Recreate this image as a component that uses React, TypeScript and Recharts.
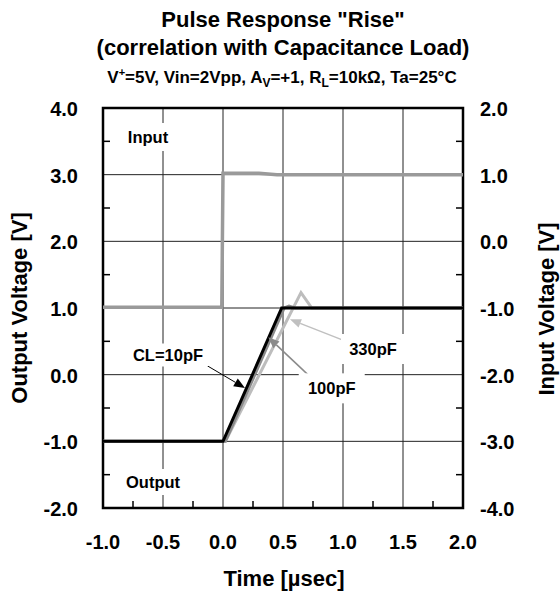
import React from "react";
import {
  LineChart,
  Line,
  XAxis,
  YAxis,
  CartesianGrid,
  ReferenceArea,
  ReferenceLine,
  ReferenceDot,
} from "recharts";

// time axis [µs]
const xMajor = [-1, -0.5, 0, 0.5, 1, 1.5, 2];
const xMinor = [-0.75, -0.25, 0.25, 0.75, 1.25, 1.75];
// left axis: output voltage [V]
const yLeftMajor = [-2, -1, 0, 1, 2, 3, 4];
// half-volt minor marks (same positions on both axes)
const yMinor = [-1.5, -0.5, 0.5, 1.5, 2.5, 3.5];
// right axis: input voltage [V]
const yRightMajor = [-4, -3, -2, -1, 0, 1, 2];

// input pulse (right axis)
const inputT = [-1, -0.01, 0.0, 0.3, 0.45, 2];
const inputV = [-0.99, -0.99, 1.02, 1.02, 1.0, 1.0];
// output, CL=10pF
const out10T = [-1, 0, 0.14, 0.489, 2];
const out10V = [-1.0, -1.0, -0.43, 1.0, 1.0];
// output, CL=100pF
const out100T = [-1, 0.02, 0.51, 0.55, 0.6, 2];
const out100V = [-1.0, -1.0, 1.0, 1.03, 1.0, 1.0];
// output, CL=330pF
const out330T = [-1, 0.02, 0.65, 0.74, 2];
const out330V = [-1.0, -1.0, 1.23, 1.0, 1.0];

const toRows = (t: number[], v: number[]) => t.map((x, i) => ({ t: x, v: v[i] }));

const FONT = "Arial, 'Liberation Sans', sans-serif";

const XTick = ({ x, y, payload }: any) => (
  <text x={x} y={y + 41} textAnchor="middle" fontFamily={FONT} fontWeight="bold" fontSize={20} fill="#000">
    {payload.value.toFixed(1)}
  </text>
);

const LeftTick = ({ x, y, payload }: any) => (
  <text x={x - 25} y={y + 8} textAnchor="end" fontFamily={FONT} fontWeight="bold" fontSize={20} fill="#000">
    {payload.value.toFixed(1)}
  </text>
);

const RightTick = ({ x, y, payload }: any) => (
  <text x={x + 17} y={y + 8} textAnchor="start" fontFamily={FONT} fontWeight="bold" fontSize={20} fill="#000">
    {payload.value.toFixed(1)}
  </text>
);

// small inward marks on the frame
const minorX = (p: any) => {
  const b = Math.max(p.y1, p.y2);
  return <line x1={p.x1} x2={p.x1} y1={b} y2={b - 7} stroke="#000" strokeWidth={1.5} />;
};
const minorY = (p: any) => {
  const l = Math.min(p.x1, p.x2);
  const r = Math.max(p.x1, p.x2);
  return (
    <g>
      <line x1={l} x2={l + 7} y1={p.y1} y2={p.y1} stroke="#000" strokeWidth={1.5} />
      <line x1={r} x2={r - 7} y1={p.y1} y2={p.y1} stroke="#000" strokeWidth={1.5} />
    </g>
  );
};

// text notes inside the plot, placed in data coordinates
const notes = [
  { text: "Input", x: -0.625, y: 3.565, w: 52, h: 28 },
  { text: "Output", x: -0.583, y: -1.61, w: 64, h: 26 },
  { text: "CL=10pF", x: -0.458, y: 0.295, w: 80, h: 23 },
  { text: "330pF", x: 1.25, y: 0.385, w: 64, h: 30 },
  { text: "100pF", x: 0.906, y: -0.205, w: 66, h: 30 },
];

const arrows = [
  { from: { x: -0.156, y: 0.16 }, to: { x: 0.183, y: -0.2 }, color: "#000", w: 1 },
  { from: { x: 1.031, y: 0.495 }, to: { x: 0.558, y: 0.83 }, color: "#c0c0c0", w: 1.5 },
  { from: { x: 0.725, y: -0.03 }, to: { x: 0.378, y: 0.56 }, color: "#8a8a8a", w: 1.5 },
];

const noteShape = (n: any) => (p: any) => (
  <g>
    <rect x={p.cx - n.w / 2} y={p.cy - n.h / 2} width={n.w} height={n.h} fill="#fff" />
    <text x={p.cx} y={p.cy + 6} textAnchor="middle" fontFamily={FONT} fontWeight="bold" fontSize={16.5} fill="#000">
      {n.text}
    </text>
  </g>
);

const arrowShape = (color: string, w: number) => (p: any) => {
  const { x1, y1, x2, y2 } = p;
  const a = Math.atan2(y2 - y1, x2 - x1);
  const L = 11;
  const W = 4.5;
  const bx = x2 - L * Math.cos(a);
  const by = y2 - L * Math.sin(a);
  const px = -Math.sin(a) * W;
  const py = Math.cos(a) * W;
  return (
    <g>
      <line x1={x1} y1={y1} x2={bx} y2={by} stroke={color} strokeWidth={w} />
      <polygon points={`${x2},${y2} ${bx + px},${by + py} ${bx - px},${by - py}`} fill={color} />
    </g>
  );
};

const App: React.FC = () => {
  return (
    <div style={{ position: "absolute", left: 0, top: 0, width: 560, height: 594, background: "#fff" }}>
      <LineChart width={560} height={594} margin={{ top: 108, right: 0, bottom: 0, left: 0 }}>
        <CartesianGrid
          stroke="#222"
          strokeWidth={1}
          horizontalValues={[-1, 0, 1, 2, 3]}
          verticalValues={[-0.5, 0, 0.5, 1, 1.5]}
        />
        <XAxis
          type="number"
          dataKey="t"
          domain={[-1, 2]}
          ticks={xMajor}
          interval={0}
          height={86}
          tickSize={0}
          tickMargin={0}
          tickLine={false}
          axisLine={false}
          tick={<XTick />}
          allowDataOverflow
        />
        <YAxis
          type="number"
          domain={[-2, 4]}
          ticks={yLeftMajor}
          interval={0}
          width={103}
          tickSize={0}
          tickMargin={0}
          tickLine={false}
          axisLine={false}
          tick={<LeftTick />}
          allowDataOverflow
        />
        <YAxis
          yAxisId="right"
          orientation="right"
          type="number"
          domain={[-4, 2]}
          ticks={yRightMajor}
          interval={0}
          width={97}
          tickSize={0}
          tickMargin={0}
          tickLine={false}
          axisLine={false}
          tick={<RightTick />}
          allowDataOverflow
        />
        {xMinor.map((v) => (
          <ReferenceLine key={`mx${v}`} x={v} stroke="#000" shape={minorX} />
        ))}
        {yMinor.map((v) => (
          <ReferenceLine key={`my${v}`} y={v} stroke="#000" shape={minorY} />
        ))}
        {notes.map((n) => (
          <ReferenceDot key={n.text} x={n.x} y={n.y} r={0} shape={noteShape(n)} />
        ))}
        <Line
          yAxisId="right"
          data={toRows(inputT, inputV)}
          dataKey="v"
          type="linear"
          stroke="#9a9a9a"
          strokeWidth={3.5}
          dot={false}
          isAnimationActive={false}
        />
        <Line
          data={toRows(out330T, out330V)}
          dataKey="v"
          type="linear"
          stroke="#bdbdbd"
          strokeWidth={3}
          dot={false}
          isAnimationActive={false}
        />
        <Line
          data={toRows(out100T, out100V)}
          dataKey="v"
          type="linear"
          stroke="#8a8a8a"
          strokeWidth={3}
          dot={false}
          isAnimationActive={false}
        />
        <Line
          data={toRows(out10T, out10V)}
          dataKey="v"
          type="linear"
          stroke="#000"
          strokeWidth={3}
          dot={false}
          isAnimationActive={false}
        />
        {arrows.map((a, i) => (
          <ReferenceLine
            key={i}
            segment={[a.from, a.to]}
            stroke={a.color}
            shape={arrowShape(a.color, a.w)}
          />
        ))}
        <ReferenceArea x1={-1} x2={2} y1={-2} y2={4} fill="none" fillOpacity={0} stroke="#000" strokeWidth={2.5} />
      </LineChart>
      <svg
        width={560}
        height={594}
        style={{ position: "absolute", left: 0, top: 0, pointerEvents: "none" }}
        fontFamily={FONT}
        fontWeight="bold"
        fill="#000"
      >
        <text x={283} y={27} textAnchor="middle" fontSize={22}>
          Pulse Response "Rise"
        </text>
        <text x={283} y={54.5} textAnchor="middle" fontSize={22}>
          (correlation with Capacitance Load)
        </text>
        <text x={282} y={83} textAnchor="middle" fontSize={17}>
          V<tspan dy={-7} fontSize={11}>+</tspan>
          <tspan dy={7}>=5V, Vin=2Vpp, A</tspan>
          <tspan dy={4} fontSize={12}>V</tspan>
          <tspan dy={-4}>=+1, R</tspan>
          <tspan dy={4} fontSize={12}>L</tspan>
          <tspan dy={-4}>=10kΩ, Ta=25°C</tspan>
        </text>
        <text x={284} y={586} textAnchor="middle" fontSize={22}>
          Time [µsec]
        </text>
        <text x={26.5} y={308} textAnchor="middle" fontSize={22} transform="rotate(-90 26.5 308)">
          Output Voltage [V]
        </text>
        <text x={554} y={309} textAnchor="middle" fontSize={22} transform="rotate(-90 554 309)">
          Input Voltage [V]
        </text>
      </svg>
    </div>
  );
};

export default App;
